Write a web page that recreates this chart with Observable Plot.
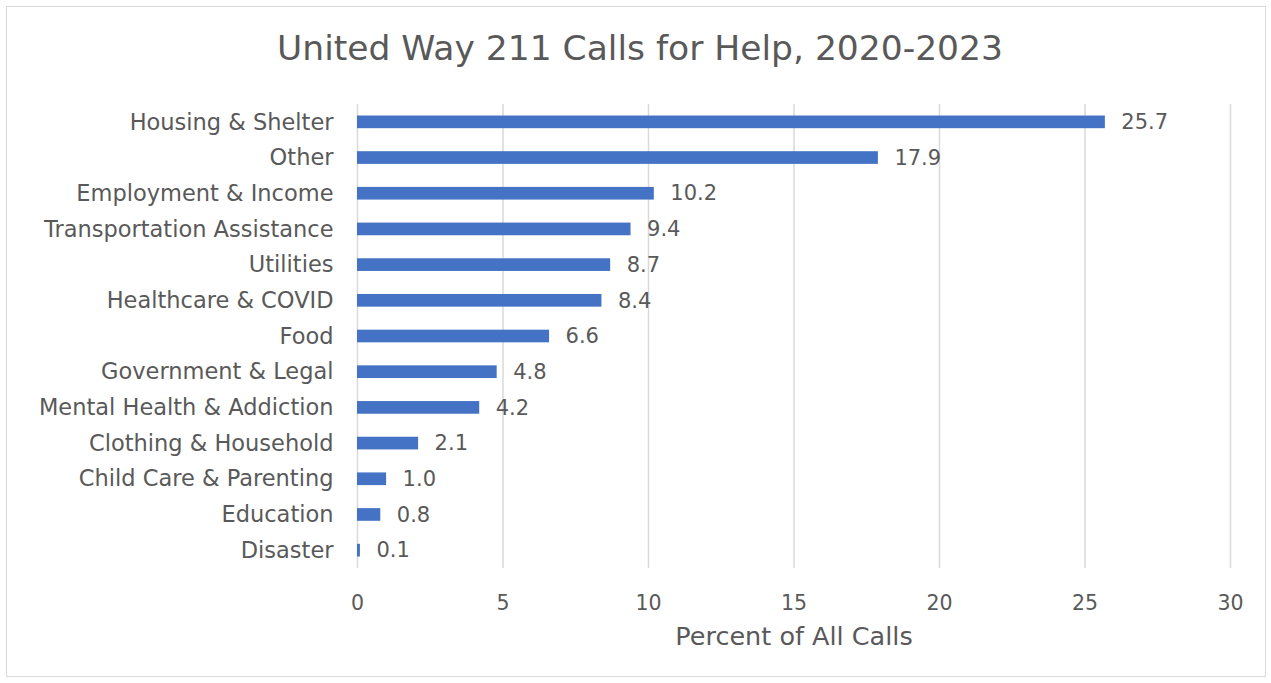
<!DOCTYPE html>
<html>
<head>
<meta charset="utf-8">
<script src="https://cdn.jsdelivr.net/npm/d3@7"></script>
<script src="https://cdn.jsdelivr.net/npm/@observablehq/plot@0.6"></script>
<style>
  html, body { margin: 0; padding: 0; background: #fff; }
  #frame { position: absolute; left: 6px; top: 6px; width: 1258px; height: 669px; border: 1px solid #d9d9d9; background: #fff; }
  #title { height: 90px; box-sizing: border-box; padding-top: 21px; text-align: center; font-family: "DejaVu Sans", sans-serif; font-size: 34.5px; color: #595959; padding-left: 8px; }
  svg { display: block; }
</style>
</head>
<body>
<div id="frame">
  <div id="title">United Way 211 Calls for Help, 2020-2023</div>
  <div id="chart"></div>
</div>
<script>
const categories = [
  "Housing & Shelter", "Other", "Employment & Income", "Transportation Assistance",
  "Utilities", "Healthcare & COVID", "Food", "Government & Legal",
  "Mental Health & Addiction", "Clothing & Household", "Child Care & Parenting",
  "Education", "Disaster"
];
const values = [25.7, 17.9, 10.2, 9.4, 8.7, 8.4, 6.6, 4.8, 4.2, 2.1, 1.0, 0.8, 0.1];
const xTicks = [0, 5, 10, 15, 20, 25, 30];
const xLabel = "Percent of All Calls";

const data = categories.map((c, i) => ({category: c, value: values[i]}));
const font = "DejaVu Sans, sans-serif";
const textColor = "#595959";

const chart = Plot.plot({
  width: 1258,
  height: 574,
  marginTop: 7,
  marginBottom: 103,
  marginLeft: 350,
  marginRight: 35,
  style: { fontFamily: font, color: textColor, background: "#fff" },
  x: { domain: [0, 30], ticks: xTicks },
  y: { domain: categories, paddingInner: 0.645, paddingOuter: 0.3225, round: false },
  marks: [
    Plot.gridX(xTicks, { stroke: "#d9d9d9", strokeOpacity: 1, strokeWidth: 1.5 }),
    Plot.barX(data, { x: "value", y: "category", fill: "#4472C4" }),
    Plot.text(data, { x: "value", y: "category", text: d => d.value.toFixed(1), textAnchor: "start", dx: 16, fontSize: 21, fill: textColor }),
    Plot.axisY({ tickSize: 0, tickPadding: 24, fontSize: 22.5, fill: textColor, label: null }),
    Plot.axisX(xTicks, { tickSize: 0, tickPadding: 27, fontSize: 20.5, fill: textColor, label: null }),
    Plot.text([xLabel], { frameAnchor: "bottom", dy: 76, fontSize: 25.5, fill: textColor, text: d => d })
  ]
});
document.getElementById("chart").appendChild(chart);
</script>
</body>
</html>
